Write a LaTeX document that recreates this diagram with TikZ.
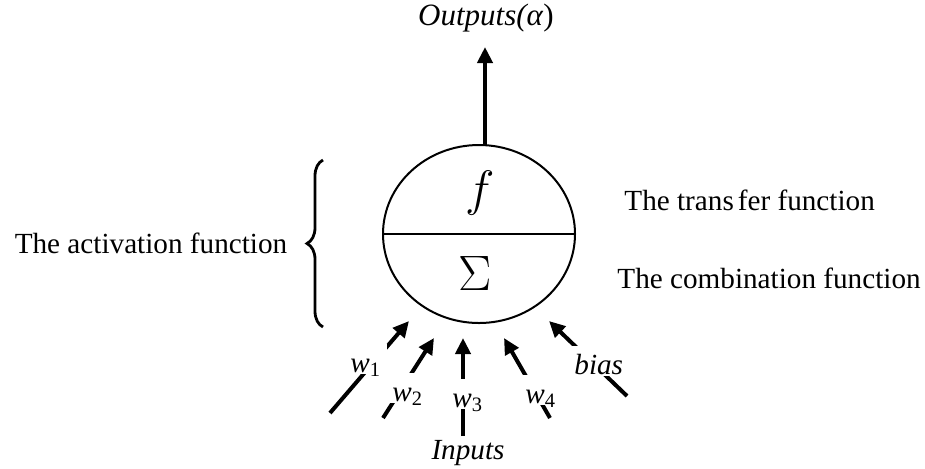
\documentclass[tikz,border=0pt]{standalone}
\usepackage{fontspec}
\setmainfont{Liberation Serif}
\usetikzlibrary{positioning,calc,arrows.meta,shapes.geometric,decorations.pathreplacing}
\newcommand{\bodyfont}{\fontsize{14.6}{17}\selectfont}
\tikzset{
  cell/.style  = {draw, ellipse, line width=1pt, minimum width=96pt,
                  minimum height=89pt, inner sep=0pt},
  sig/.style   = {line width=2pt, -{Triangle[length=8pt,width=7.5pt]}},
  wlbl/.style  = {fill=white, font=\bodyfont\itshape, anchor=base west,
                  inner xsep=3pt, inner ysep=0pt, text height=14pt, text depth=1pt},
  txt/.style   = {inner sep=1pt},
  brc/.style   = {decorate, decoration={brace, amplitude=8pt}, line width=1.4pt},
}

\begin{document}
\begin{tikzpicture}[x=0.5pt, y=-0.5pt, font=\bodyfont]
  \useasboundingbox (0,0) rectangle (925,468);
  % neuron
  \node[cell] (neuron) at (479,234) {};
  \draw[line width=1pt] (neuron.west) -- (neuron.east);
  \node (f) at (480,193) {\fontsize{24}{26}\selectfont$f$};
  \node (sum) at (475,273) {\fontsize{29}{32}\selectfont$\Sigma$};
  % output
  \node[txt] (out) at (486,18) {\fontsize{15.5}{18}\selectfont\textit{Outputs(α})};
  \coordinate (obase) at (485,145);
  \coordinate (otip) at (485,47);
  \draw[sig] (obase) -- (otip);
  % side texts
  \node[txt] (act) at (151,243) {The activation function};
  \node[txt, anchor=west] (trf) at (622,200) {The trans\kern2pt fer function};
  \node[txt, anchor=west] (cmb) at (615,278) {The combination function};
  \coordinate (bbot) at (323,327);
  \coordinate (btop) at (323,160);
  \draw[brc] (bbot) -- (btop);
  % inputs
  \coordinate (t1) at (330,413); \coordinate (h1) at (409,321);
  \coordinate (t2) at (383,418); \coordinate (h2) at (434,338);
  \coordinate (t3) at (463,436); \coordinate (h3) at (463,338);
  \coordinate (t4) at (550,418); \coordinate (h4) at (504,338);
  \coordinate (t5) at (627,396); \coordinate (h5) at (549,321);
  \foreach \i in {1,...,5}
    \draw[sig] (t\i) -- (h\i);
  \node[wlbl] (w1) at (344,372) {w\textup{\textsubscript{1}}};
  \node[wlbl] (w2) at (386,401) {w\textup{\textsubscript{2}}};
  \node[wlbl] (w3) at (446,407) {w\textup{\textsubscript{3}}};
  \node[wlbl] (w4) at (519,403) {w\textup{\textsubscript{4}}};
  \node[wlbl] (bias) at (568,374) {bias};
  \node[txt] (inputs) at (468,453) {\textit{Inputs}};
\end{tikzpicture}
\end{document}
